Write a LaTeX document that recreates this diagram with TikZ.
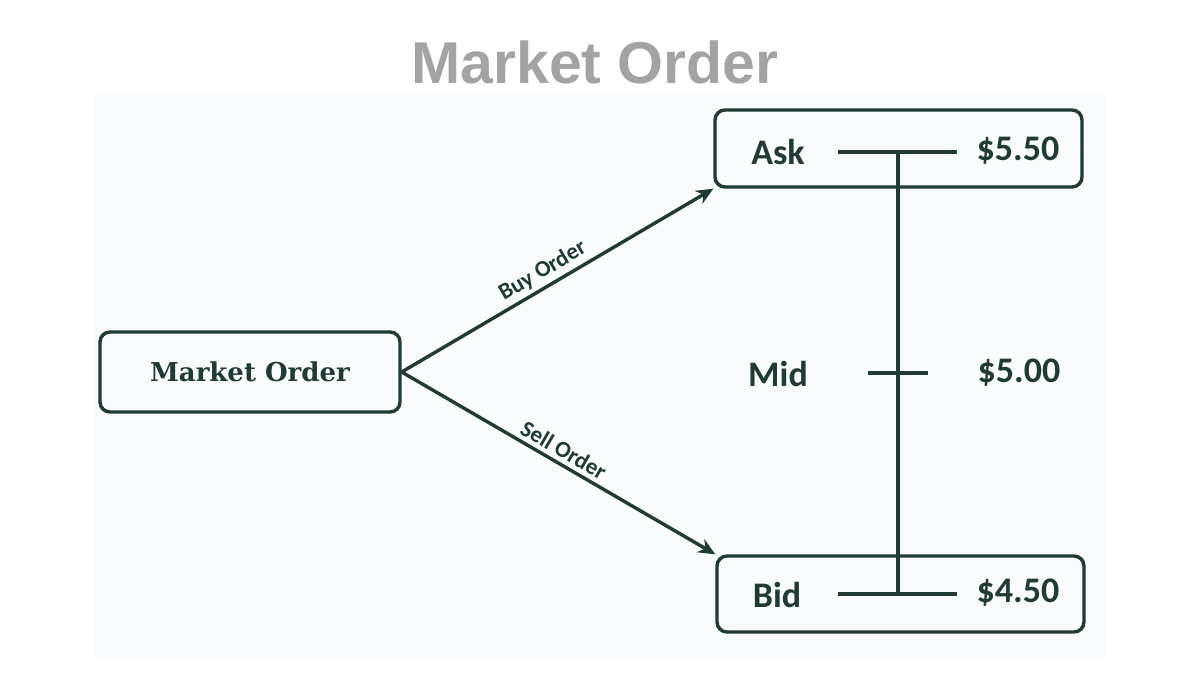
\documentclass[tikz,border=0pt]{standalone}
\usepackage{fontspec}
\usetikzlibrary{calc,arrows.meta}
\newfontfamily\labelfont{Carlito}
\newfontfamily\slabfont{DejaVu Serif}
\newfontfamily\titlefont{Liberation Sans}
\definecolor{ink}{HTML}{1F3A37}
\definecolor{titlegray}{HTML}{A3A3A3}
\definecolor{paper}{HTML}{FAFBFC}

\begin{document}
\begin{tikzpicture}[x=1pt,y=-1pt, >={Stealth[length=17pt,width=15pt]},
    box/.style={draw=ink, line width=3.4pt, rounded corners=10pt, inner sep=0pt},
    lbl/.style={text=ink, font=\labelfont\bfseries\fontsize{36}{36}\selectfont},
    tag/.style={text=ink, font=\labelfont\bfseries\fontsize{23}{23}\selectfont, inner sep=4pt},
    bar/.style={draw=ink, line width=3.6pt}]
  \useasboundingbox (0,0) rectangle (1200,674);
  \fill[paper] (93,95) rectangle (1107,657);

  \node[text=titlegray, font=\titlefont\bfseries\fontsize{59}{59}\selectfont] (title) at (595,62) {Market Order};

  \node[box, minimum width=300pt, minimum height=80pt] (mo) at (250,372)
    {\slabfont\bfseries\fontsize{26}{26}\selectfont\color{ink}Market Order};
  \node[box, minimum width=367pt, minimum height=77pt] (ask) at (898.5,148.5) {};
  \node[box, minimum width=367pt, minimum height=76pt] (bid) at (900.5,594) {};

  \node[lbl] (asklbl) at (778,152) {Ask};
  \node[lbl] (askval) at (1018,151) {\$5.50};
  \node[lbl] (midlbl) at (778,374) {Mid};
  \node[lbl] (midval) at (1019,373) {\$5.00};
  \node[lbl] (bidlbl) at (777,595) {Bid};
  \node[lbl] (bidval) at (1018,593) {\$4.50};

  \coordinate (a1) at (838,152);
  \coordinate (a2) at (957,152);
  \coordinate (atop) at (898,152);
  \coordinate (m1) at (868,373);
  \coordinate (m2) at (928,373);
  \coordinate (b1) at (838,594);
  \coordinate (b2) at (957,594);
  \coordinate (bbot) at (898,594);

  \draw[bar] (a1) -- (a2);
  \draw[bar] (m1) -- (m2);
  \draw[bar] (b1) -- (b2);
  \draw[bar] (atop) -- (bbot);

  \draw[->, draw=ink, fill=ink, line width=3.4pt] (mo.east) -- (ask.south west)
    node[tag, midway, above, sloped, xshift=-8pt] {Buy Order};
  \draw[->, draw=ink, fill=ink, line width=3.4pt] (mo.east) -- (bid.north west)
    node[tag, midway, above, sloped, xshift=-2pt] {Sell Order};
\end{tikzpicture}
\end{document}
